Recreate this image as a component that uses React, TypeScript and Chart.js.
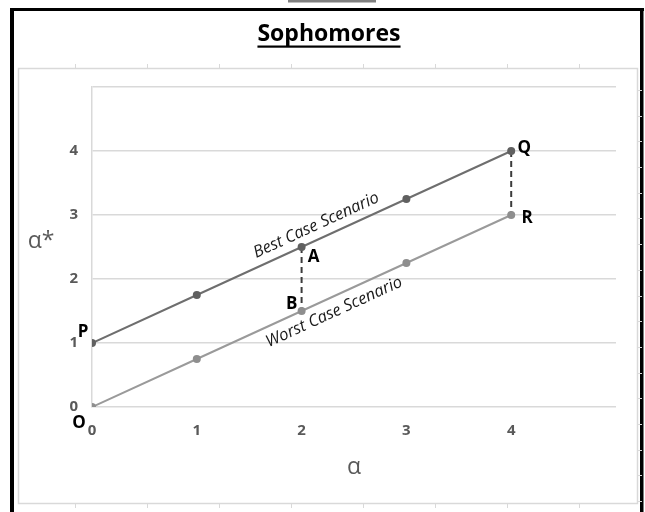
import React, { useEffect, useRef } from "react";
import { Chart, registerables } from "chart.js";

Chart.register(...registerables);

const chartTitle = "Sophomores";
const xValues = [0, 1, 2, 3, 4];
const bestCase = [1, 1.75, 2.5, 3.25, 4];
const worstCase = [0, 0.75, 1.5, 2.25, 3];
const xTickLabels = ["0", "1", "2", "3", "4"];
const yTickLabels = ["0", "1", "2", "3", "4"];
const gapIndices = [2, 4];
const xAxisTitle = "α";
const yAxisTitle = "α*";
const bestLabel = "Best Case Scenario";
const worstLabel = "Worst Case Scenario";
const pointNames = ["P", "O", "A", "B", "Q", "R"];
const pointSeries = [0, 1, 0, 1, 0, 1];
const pointIndex = [0, 0, 2, 2, 4, 4];

const FONT = "'Open Sans', Lato, sans-serif";

const decorPlugin = {
  id: "decor",
  beforeDraw(chart: any) {
    const ctx = chart.ctx;
    ctx.save();
    ctx.fillStyle = "#ffffff";
    ctx.fillRect(0, 0, chart.width, chart.height);
    // top gray bar
    ctx.fillStyle = "#808080";
    ctx.fillRect(288, 0, 88, 2.5);
    // black frame
    ctx.fillStyle = "#000000";
    ctx.fillRect(10, 8, 4, 520);
    ctx.fillRect(10, 8, 634, 3);
    ctx.fillRect(640, 8, 3.5, 520);
    // inner light rectangle
    ctx.strokeStyle = "#d9d9d9";
    ctx.lineWidth = 1.5;
    ctx.strokeRect(18.5, 68.5, 619, 435);
    ctx.lineWidth = 1;
    ctx.beginPath();
    for (let x = 75; x < 637; x += 72) {
      ctx.moveTo(x + 0.5, 64);
      ctx.lineTo(x + 0.5, 68);
      ctx.moveTo(x + 0.5, 504);
      ctx.lineTo(x + 0.5, 508);
    }
    for (let y = 90; y < 503; y += 25.7) {
      ctx.moveTo(638, Math.round(y) + 0.5);
      ctx.lineTo(642, Math.round(y) + 0.5);
    }
    ctx.stroke();
    // title
    ctx.fillStyle = "#000000";
    ctx.font = `bold 23px ${FONT}`;
    ctx.textAlign = "center";
    ctx.textBaseline = "alphabetic";
    ctx.fillText(chartTitle, 329, 41);
    const w = ctx.measureText(chartTitle).width;
    ctx.fillRect(329 - w / 2, 45.5, w, 2.2);
    ctx.restore();
  },
  afterDraw(chart: any) {
    const ctx = chart.ctx;
    const xs = chart.scales.x;
    const ys = chart.scales.y;
    const area = chart.chartArea;
    ctx.save();
    // axis titles
    ctx.fillStyle = "#595959";
    ctx.font = `23px ${FONT}`;
    ctx.textAlign = "center";
    ctx.textBaseline = "middle";
    ctx.fillText(xAxisTitle, (area.left + area.right) / 2, 467);
    ctx.fillText(yAxisTitle, 41, 241);
    // point names
    const offs = [
      [-9, -11],
      [-13, 16],
      [12, 10],
      [-10, -7],
      [13, -3],
      [16, 3],
    ];
    ctx.fillStyle = "#000000";
    ctx.font = `bold 17px ${FONT}`;
    pointNames.forEach((name, k) => {
      const el = chart.getDatasetMeta(pointSeries[k]).data[pointIndex[k]];
      ctx.fillText(name, el.x + offs[k][0], el.y + offs[k][1]);
    });
    // series labels along lines
    const drawAlong = (vals: number[], label: string, xAt: number, dy: number) => {
      const p0x = xs.getPixelForValue(xValues[0]);
      const p0y = ys.getPixelForValue(vals[0]);
      const p1x = xs.getPixelForValue(xValues[xValues.length - 1]);
      const p1y = ys.getPixelForValue(vals[vals.length - 1]);
      const ang = Math.atan2(p1y - p0y, p1x - p0x);
      const px = xs.getPixelForValue(xAt);
      const t = (px - p0x) / (p1x - p0x);
      const py = p0y + t * (p1y - p0y);
      ctx.save();
      ctx.translate(px, py + dy);
      ctx.rotate(ang);
      ctx.font = `italic 16.5px ${FONT}`;
      ctx.fillStyle = "#1a1a1a";
      ctx.textAlign = "center";
      ctx.textBaseline = "middle";
      ctx.fillText(label, 0, 0);
      ctx.restore();
    };
    drawAlong(bestCase, bestLabel, 2.14, -15);
    drawAlong(worstCase, worstLabel, 2.31, 16);
    ctx.restore();
  },
};

export default function App() {
  const ref = useRef<HTMLCanvasElement | null>(null);
  useEffect(() => {
    if (!ref.current) return;
    const gapSets = gapIndices.map((i) => ({
      data: [
        { x: xValues[i], y: bestCase[i] },
        { x: xValues[i], y: worstCase[i] },
      ],
      borderColor: "#3c3c3c",
      borderDash: [6, 4],
      borderWidth: 2,
      pointRadius: 0,
      fill: false,
    }));
    const chart = new Chart(ref.current, {
      type: "line",
      data: {
        datasets: [
          {
            label: bestLabel,
            data: xValues.map((x, i) => ({ x, y: bestCase[i] })),
            borderColor: "#6e6e6e",
            backgroundColor: "#606060",
            borderWidth: 2,
            pointRadius: 4,
            pointBorderWidth: 0,
            fill: false,
          },
          {
            label: worstLabel,
            data: xValues.map((x, i) => ({ x, y: worstCase[i] })),
            borderColor: "#9a9a9a",
            backgroundColor: "#8e8e8e",
            borderWidth: 2,
            pointRadius: 4,
            pointBorderWidth: 0,
            fill: false,
          },
          ...gapSets,
        ] as any,
      },
      options: {
        animation: false,
        responsive: false,
        maintainAspectRatio: false,
        layout: { padding: { left: 52, right: 29, top: 87, bottom: 65 } },
        plugins: {
          legend: { display: false },
          title: { display: false },
          tooltip: { enabled: false },
        },
        scales: {
          x: {
            type: "linear",
            min: 0,
            max: 5,
            ticks: {
              stepSize: 1,
              color: "#595959",
              font: { family: FONT, size: 15, weight: "bold" },
              padding: 15,
              maxRotation: 0,
              callback: (v: any) => xTickLabels[xValues.indexOf(Number(v))] ?? "",
            },
            grid: { display: false, drawTicks: false },
            border: { display: false },
            afterFit: (s: any) => {
              s.height = 40;
            },
          },
          y: {
            type: "linear",
            min: 0,
            max: 5,
            ticks: {
              stepSize: 1,
              color: "#595959",
              font: { family: FONT, size: 15, weight: "bold" },
              padding: 14,
              callback: (v: any) => yTickLabels[Number(v)] ?? "",
            },
            grid: { color: "#d9d9d9", lineWidth: 1.5, drawTicks: false },
            border: { display: true, color: "#d9d9d9", width: 1.5 },
            afterFit: (s: any) => {
              s.width = 40;
            },
          },
        },
      } as any,
      plugins: [decorPlugin],
    });
    return () => chart.destroy();
  }, []);
  return (
    <div style={{ position: "absolute", left: 0, top: 0, width: 645, height: 512 }}>
      <canvas ref={ref} width={645} height={512} />
    </div>
  );
}
